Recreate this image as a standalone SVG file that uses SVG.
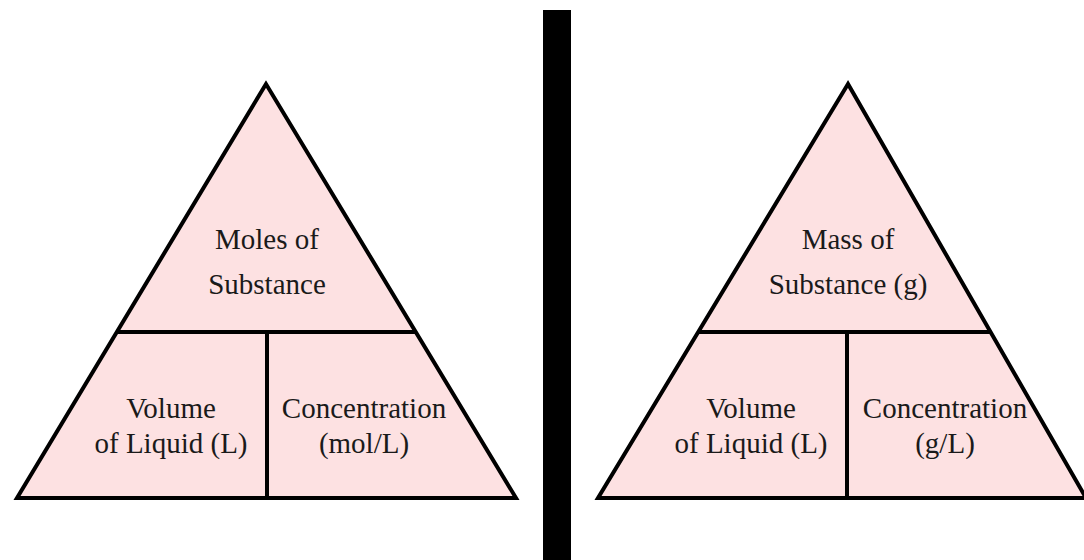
<svg xmlns="http://www.w3.org/2000/svg" width="1084" height="560" viewBox="0 0 1084 560">
<style>
.tri{fill:#fde1e2;stroke:#000;stroke-width:4;stroke-linejoin:miter}
.ln{stroke:#000;stroke-width:4;fill:none}
text{font-family:"Liberation Serif","Times New Roman",serif;font-size:29px;fill:#1a1a1a;text-anchor:middle}
</style>
<rect width="1084" height="560" fill="#fff"/>
<g id="divider"><rect x="543" y="10" width="28" height="550" fill="#000"/></g>
<g id="left-triangle">
<polygon class="tri" points="266,84 17,498 516,498"/>
<line class="ln" x1="116" y1="332" x2="416" y2="332"/>
<line class="ln" x1="267" y1="332" x2="267" y2="498"/>
</g>
<g id="left-top"><text x="267" y="249">Moles of</text><text x="267" y="294">Substance</text></g>
<g id="left-volume"><text x="171" y="418">Volume</text><text x="171" y="453">of Liquid (L)</text></g>
<g id="left-conc"><text x="364" y="418">Concentration</text><text x="364" y="453">(mol/L)</text></g>
<g id="right-triangle">
<polygon class="tri" points="848,84 598,498 1086,498"/>
<line class="ln" x1="697" y1="332" x2="990" y2="332"/>
<line class="ln" x1="847" y1="332" x2="847" y2="498"/>
</g>
<g id="right-top"><text x="848" y="249">Mass of</text><text x="848" y="294">Substance (g)</text></g>
<g id="right-volume"><text x="751" y="418">Volume</text><text x="751" y="453">of Liquid (L)</text></g>
<g id="right-conc"><text x="945" y="418">Concentration</text><text x="945" y="453">(g/L)</text></g>
</svg>
